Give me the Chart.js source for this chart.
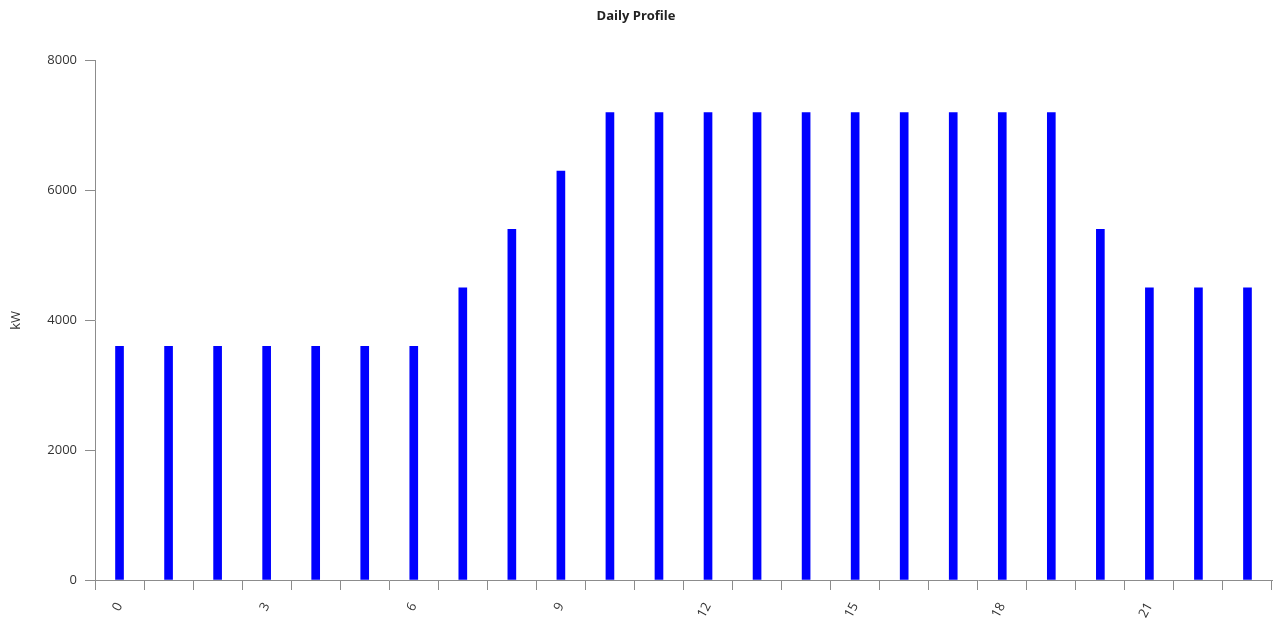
<!DOCTYPE html>
<html>
<head>
<meta charset="utf-8">
<script src="https://cdn.jsdelivr.net/npm/chart.js@4"></script>
<style>
  html, body { margin: 0; padding: 0; background: #fff; }
  #wrap { width: 1277px; height: 632px; }
</style>
</head>
<body>
<div id="wrap"><canvas id="myChart"></canvas></div>
<script>
const hours = [0, 1, 2, 3, 4, 5, 6, 7, 8, 9, 10, 11, 12, 13, 14, 15, 16, 17, 18, 19, 20, 21, 22, 23];
const loadKW = [3600, 3600, 3600, 3600, 3600, 3600, 3600, 4500, 5400, 6300,
  7200, 7200, 7200, 7200, 7200, 7200, 7200, 7200, 7200, 7200,
  5400, 4500, 4500, 4500];
const yTicks = [0, 2000, 4000, 6000, 8000];

const axisGray = "#8c8c8c";
const textGray = "#333";
Chart.defaults.font.family = "'Open Sans', 'DejaVu Sans', sans-serif";

const ctx = document.getElementById("myChart");

new Chart(ctx, {
  type: "bar",
  data: {
    labels: hours,
    datasets: [
      {
        label: "kW",
        data: loadKW,
        backgroundColor: "#0000ff",
        barThickness: 8,
      },
    ],
  },
  options: {
    responsive: true,
    maintainAspectRatio: false,
    animation: false,
    layout: { padding: { left: 0, right: 5, top: 0, bottom: 0 } },
    plugins: {
      legend: { display: false },
      tooltip: { enabled: false },
      title: {
        display: true,
        text: "Daily Profile",
        color: "#222",
        font: { size: 13, weight: "bold" },
        padding: { top: 8, bottom: 37 },
      },
    },
    scales: {
      x: {
        offset: true,
        grid: {
          offset: true,
          drawOnChartArea: false,
          drawTicks: true,
          tickLength: 10,
          color: axisGray,
        },
        border: { display: true, color: axisGray, width: 1 },
        ticks: {
          autoSkip: false,
          minRotation: 62,
          maxRotation: 62,
          padding: 10,
          color: textGray,
          font: { size: 13 },
          callback: function (value, index) {
            const h = hours[index];
            return h % 3 === 0 ? String(h) : "";
          },
        },
        afterFit: function (scale) {
          scale.height = 52;
        },
      },
      y: {
        min: 0,
        max: 8000,
        afterBuildTicks: function (scale) {
          scale.ticks = yTicks.map((v) => ({ value: v }));
        },
        grid: {
          drawOnChartArea: false,
          drawTicks: true,
          tickLength: 10,
          color: axisGray,
        },
        border: { display: true, color: axisGray, width: 1 },
        ticks: {
          color: textGray,
          font: { size: 13 },
          padding: 8,
          callback: function (value) {
            return String(value);
          },
        },
        title: {
          display: true,
          text: "kW",
          color: textGray,
          font: { size: 13 },
          padding: { top: 8, bottom: 0 },
        },
        afterFit: function (scale) {
          scale.width = 95;
        },
      },
    },
  },
});
</script>
</body>
</html>
